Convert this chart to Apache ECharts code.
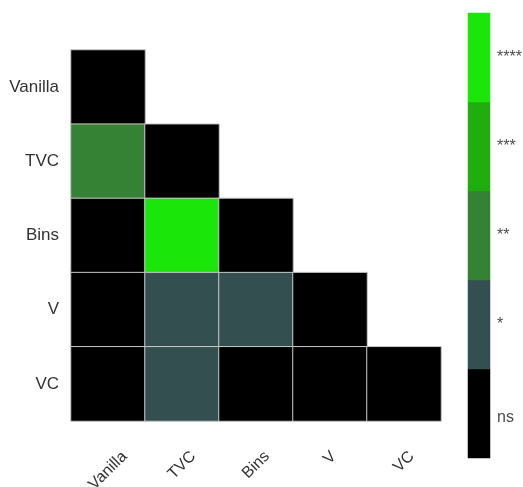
<!DOCTYPE html>
<html>
<head>
<meta charset="utf-8">
<script src="https://cdn.jsdelivr.net/npm/echarts@6/dist/echarts.min.js"></script>
<style>
  html, body { margin: 0; padding: 0; background: #ffffff; }
  #chart { width: 523px; height: 487px; }
</style>
</head>
<body>
<div id="chart"></div>
<script>
// Model names, shared by both axes of the comparison matrix
const models = ['Vanilla', 'TVC', 'Bins', 'V', 'VC'];

// Significance levels, lowest to highest
const levelLabels = ['ns', '*', '**', '***', '****'];
const levelColors = ['#000000', '#334f4f', '#358235', '#1fae0d', '#1ae60a'];

// Lower triangle of pairwise significance (index into levelLabels), one row per model
const rowVanilla = [0];
const rowTVC = [2, 0];
const rowBins = [0, 4, 0];
const rowV = [0, 1, 1, 0];
const rowVC = [0, 1, 0, 0, 0];
const rows = [rowVanilla, rowTVC, rowBins, rowV, rowVC];

const cells = [];
rows.forEach((row, r) => {
  row.forEach((lvl, c) => cells.push([c, r, lvl]));
});

const barCells = levelLabels.map((_, i) => [0, i, i]);

const font = 'Liberation Sans, Arial, Helvetica, sans-serif';
const xFontSize = 16;

// Rotated x labels are centred under their column with their tops lined up:
// each label gets padding that pushes it straight down by a share of its width.
const measure = document.createElement('canvas').getContext('2d');
measure.font = xFontSize + 'px ' + font;
const xRich = {};
models.forEach((name, i) => {
  const w = measure.measureText(name).width;
  xRich['m' + i] = {
    fontSize: xFontSize, color: '#333333', fontFamily: font,
    padding: [w * 0.5, w * 0.5, 0, 0]
  };
});

const chart = echarts.init(document.getElementById('chart'));
chart.setOption({
  backgroundColor: '#ffffff',
  animation: false,
  grid: [
    { left: 71, top: 50, width: 370, height: 371, outerBoundsMode: 'none', containLabel: false },
    { left: 468, top: 13, width: 22, height: 445, outerBoundsMode: 'none', containLabel: false }
  ],
  xAxis: [
    {
      gridIndex: 0, type: 'category', data: models,
      axisLine: { show: false }, axisTick: { show: false }, splitLine: { show: false },
      axisLabel: {
        rotate: 45, margin: 33, align: 'center', verticalAlign: 'middle',
        fontSize: xFontSize, color: '#333333', fontFamily: font,
        formatter: (value, idx) => '{m' + idx + '|' + value + '}',
        rich: xRich
      }
    },
    {
      gridIndex: 1, type: 'category', data: [''],
      axisLine: { show: false }, axisTick: { show: false }, axisLabel: { show: false }
    }
  ],
  yAxis: [
    {
      gridIndex: 0, type: 'category', data: models, inverse: true,
      axisLine: { show: false }, axisTick: { show: false }, splitLine: { show: false },
      axisLabel: { margin: 12, fontSize: 17, color: '#333333', fontFamily: font }
    },
    {
      gridIndex: 1, type: 'category', data: levelLabels, position: 'right',
      axisLine: { show: false }, axisTick: { show: false }, splitLine: { show: false },
      axisLabel: {
        margin: 7, fontSize: 16, color: '#4d4d4d', fontFamily: font,
        // letters sit a little lower than the asterisks beside their key
        formatter: (value) => /^\*+$/.test(value) ? value : '{word|' + value + '}',
        rich: { word: { fontSize: 16, color: '#4d4d4d', fontFamily: font, padding: [8, 0, 0, 0] } }
      }
    }
  ],
  visualMap: {
    show: false,
    type: 'piecewise',
    dimension: 2,
    seriesIndex: [0, 1],
    pieces: levelLabels.map((label, i) => ({ value: i, color: levelColors[i], label: label }))
  },
  series: [
    {
      type: 'heatmap',
      xAxisIndex: 0, yAxisIndex: 0,
      data: cells,
      itemStyle: { borderColor: '#c8c8c8', borderWidth: 1 },
      emphasis: { disabled: true }
    },
    {
      type: 'heatmap',
      xAxisIndex: 1, yAxisIndex: 1,
      data: barCells,
      itemStyle: { borderWidth: 0 },
      emphasis: { disabled: true }
    }
  ]
});
</script>
</body>
</html>
